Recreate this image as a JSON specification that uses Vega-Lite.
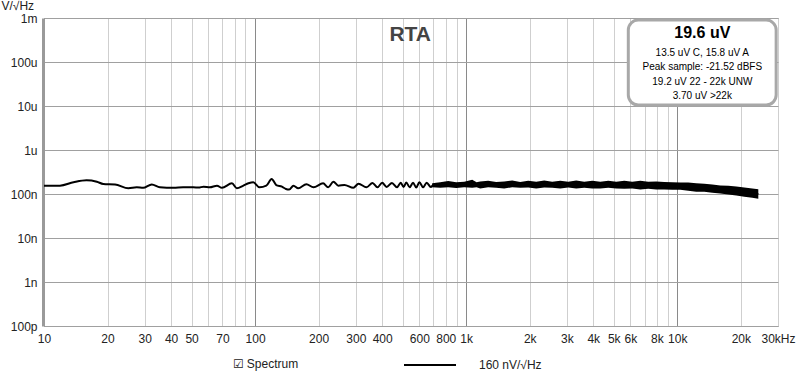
{
  "$schema": "https://vega.github.io/schema/vega-lite/v6.json",
  "width": 734,
  "height": 308,
  "autosize": "none",
  "padding": {"left": 44, "top": 18, "right": 22, "bottom": 52},
  "background": "white",
  "config": {
    "font": "Liberation Sans",
    "view": {"stroke": "#a0a0a0", "strokeWidth": 1}
  },
  "datasets": {
    "trace": [
      {"f": 10, "v": 1.55e-7}, {"f": 11.9, "v": 1.55e-7}, {"f": 13.8, "v": 1.85e-7},
      {"f": 15.9, "v": 2.05e-7}, {"f": 17.8, "v": 1.9e-7}, {"f": 19.1, "v": 1.69e-7},
      {"f": 21.7, "v": 1.65e-7}, {"f": 25.1, "v": 1.35e-7}, {"f": 27.5, "v": 1.42e-7},
      {"f": 29.5, "v": 1.38e-7}, {"f": 32.4, "v": 1.65e-7}, {"f": 35.4, "v": 1.42e-7},
      {"f": 41.1, "v": 1.38e-7}, {"f": 45.6, "v": 1.42e-7}, {"f": 51, "v": 1.42e-7},
      {"f": 54, "v": 1.4e-7}, {"f": 57, "v": 1.47e-7}, {"f": 61, "v": 1.42e-7},
      {"f": 66, "v": 1.55e-7}, {"f": 69.6, "v": 1.38e-7}, {"f": 77.7, "v": 1.75e-7},
      {"f": 81.9, "v": 1.35e-7}, {"f": 88, "v": 1.55e-7}, {"f": 93, "v": 1.75e-7},
      {"f": 98, "v": 1.85e-7}, {"f": 105, "v": 1.42e-7}, {"f": 113, "v": 1.55e-7},
      {"f": 119.8, "v": 2.19e-7}, {"f": 126, "v": 1.6e-7}, {"f": 134, "v": 1.47e-7},
      {"f": 140, "v": 1.3e-7}, {"f": 145, "v": 1.26e-7}, {"f": 152, "v": 1.55e-7},
      {"f": 160, "v": 1.35e-7}, {"f": 175, "v": 1.67e-7}, {"f": 189, "v": 1.42e-7},
      {"f": 210, "v": 1.75e-7}, {"f": 222, "v": 1.42e-7}, {"f": 235, "v": 1.9e-7},
      {"f": 248, "v": 1.55e-7}, {"f": 265, "v": 1.6e-7}, {"f": 292, "v": 1.38e-7},
      {"f": 309, "v": 1.72e-7}, {"f": 337, "v": 1.42e-7}, {"f": 360, "v": 1.78e-7},
      {"f": 380, "v": 1.42e-7}, {"f": 400, "v": 1.8e-7}, {"f": 420, "v": 1.45e-7},
      {"f": 445, "v": 1.78e-7}, {"f": 470, "v": 1.42e-7}, {"f": 490, "v": 1.8e-7},
      {"f": 505, "v": 1.44e-7}, {"f": 520, "v": 1.82e-7}, {"f": 540, "v": 1.42e-7},
      {"f": 560, "v": 1.8e-7}, {"f": 580, "v": 1.4e-7}, {"f": 600, "v": 1.85e-7},
      {"f": 625, "v": 1.42e-7}, {"f": 650, "v": 1.8e-7}, {"f": 680, "v": 1.45e-7},
      {"f": 700, "v": 1.6e-7}, {"f": 1000, "v": 1.6e-7}, {"f": 2000, "v": 1.62e-7},
      {"f": 5000, "v": 1.58e-7}, {"f": 10000, "v": 1.48e-7}, {"f": 15000, "v": 1.3e-7},
      {"f": 20000, "v": 1.15e-7}, {"f": 24200, "v": 1.0e-7}
    ],
    "band": [
      {"f": 690, "lo": 1.42e-7, "hi": 1.75e-7}, {"f": 753, "lo": 1.38e-7, "hi": 1.85e-7},
      {"f": 822, "lo": 1.42e-7, "hi": 1.97e-7}, {"f": 897, "lo": 1.36e-7, "hi": 1.85e-7},
      {"f": 978, "lo": 1.42e-7, "hi": 1.9e-7}, {"f": 1068, "lo": 1.38e-7, "hi": 2.1e-7},
      {"f": 1120, "lo": 1.42e-7, "hi": 1.85e-7},
      {"f": 1165, "lo": 1.34e-7, "hi": 1.92e-7}, {"f": 1271, "lo": 1.42e-7, "hi": 2.0e-7},
      {"f": 1387, "lo": 1.38e-7, "hi": 1.88e-7}, {"f": 1514, "lo": 1.34e-7, "hi": 1.92e-7},
      {"f": 1652, "lo": 1.42e-7, "hi": 2.02e-7}, {"f": 1803, "lo": 1.38e-7, "hi": 1.88e-7},
      {"f": 1967, "lo": 1.4e-7, "hi": 2.0e-7}, {"f": 2147, "lo": 1.33e-7, "hi": 1.9e-7},
      {"f": 2343, "lo": 1.4e-7, "hi": 2.02e-7}, {"f": 2556, "lo": 1.38e-7, "hi": 1.9e-7},
      {"f": 2790, "lo": 1.33e-7, "hi": 2.0e-7}, {"f": 3044, "lo": 1.4e-7, "hi": 1.9e-7},
      {"f": 3322, "lo": 1.33e-7, "hi": 2.02e-7}, {"f": 3625, "lo": 1.38e-7, "hi": 1.9e-7},
      {"f": 3956, "lo": 1.33e-7, "hi": 2.0e-7}, {"f": 4316, "lo": 1.33e-7, "hi": 1.9e-7},
      {"f": 4710, "lo": 1.38e-7, "hi": 2.0e-7}, {"f": 5140, "lo": 1.33e-7, "hi": 1.9e-7},
      {"f": 5609, "lo": 1.32e-7, "hi": 2.0e-7}, {"f": 6121, "lo": 1.33e-7, "hi": 1.9e-7},
      {"f": 6678, "lo": 1.27e-7, "hi": 2.0e-7}, {"f": 7288, "lo": 1.32e-7, "hi": 1.9e-7},
      {"f": 7953, "lo": 1.26e-7, "hi": 1.92e-7}, {"f": 8678, "lo": 1.27e-7, "hi": 1.88e-7},
      {"f": 9470, "lo": 1.25e-7, "hi": 1.84e-7}, {"f": 10330, "lo": 1.25e-7, "hi": 1.82e-7},
      {"f": 11270, "lo": 1.19e-7, "hi": 1.82e-7}, {"f": 12300, "lo": 1.13e-7, "hi": 1.75e-7},
      {"f": 13430, "lo": 1.12e-7, "hi": 1.72e-7}, {"f": 14650, "lo": 1.07e-7, "hi": 1.65e-7},
      {"f": 15990, "lo": 1.02e-7, "hi": 1.57e-7}, {"f": 17450, "lo": 9.7e-8, "hi": 1.55e-7},
      {"f": 19040, "lo": 9.2e-8, "hi": 1.48e-7}, {"f": 20780, "lo": 8.7e-8, "hi": 1.41e-7},
      {"f": 22670, "lo": 8.2e-8, "hi": 1.34e-7}, {"f": 24200, "lo": 7.8e-8, "hi": 1.28e-7}
    ]
  },
  "layer": [
    {
      "data": {"name": "band"},
      "mark": {"type": "area", "color": "black"},
      "encoding": {
        "x": {
          "field": "f", "type": "quantitative",
          "scale": {"type": "log", "domain": [10, 30000], "nice": false},
          "axis": {
            "title": "☑ Spectrum",
            "titleX": 188, "titleY": 37, "titleAlign": "left", "titleBaseline": "middle",
            "titleFontSize": 12, "titleFontWeight": "normal", "titleColor": "#222",
            "values": [10,20,30,40,50,60,70,80,90,100,200,300,400,500,600,700,800,900,1000,2000,3000,4000,5000,6000,7000,8000,9000,10000,20000,30000],
            "labelExpr": "datum.value==30000 ? '30kHz' : indexof([10,20,30,40,50,70,100,200,300,400,600,800,1000,2000,3000,4000,5000,6000,8000,10000,20000], datum.value) < 0 ? '' : datum.value >= 1000 ? (datum.value/1000) + 'k' : datum.value + ''",
            "labelOverlap": false, "labelFlush": false, "labelBound": false,
            "ticks": false, "domain": false,
            "labelPadding": 7, "labelFontSize": 12, "labelColor": "#222",
            "grid": true,
            "gridColor": {"condition": {"test": "datum.value==10 || datum.value==100 || datum.value==1000 || datum.value==10000", "value": "#8a8a8a"}, "value": "#cfcfcf"},
            "gridWidth": 1
          }
        },
        "y": {
          "field": "lo", "type": "quantitative",
          "scale": {"type": "log", "domain": [1e-10, 1e-3], "nice": false},
          "axis": {
            "title": "V/√Hz",
            "titleAngle": 0, "titleX": -42, "titleY": -18,
            "titleAlign": "left", "titleBaseline": "top",
            "titleFontWeight": "normal", "titleFontSize": 12, "titleColor": "#222",
            "values": [1e-3, 1e-4, 1e-5, 1e-6, 1e-7, 1e-8, 1e-9, 1e-10],
            "labelExpr": "['1m','100u','10u','1u','100n','10n','1n','100p'][round(-log(datum.value)/LN10) - 3]",
            "labelOverlap": false, "labelFlush": false, "labelBound": false,
            "ticks": false, "labelPadding": 6, "labelFontSize": 12, "labelColor": "#222",
            "domain": true, "domainColor": "#9a9a9a", "domainWidth": 3, "offset": 1,
            "grid": true, "gridColor": "#a0a0a0"
          }
        },
        "y2": {"field": "hi"}
      }
    },
    {
      "data": {"name": "trace"},
      "mark": {"type": "line", "strokeWidth": 2, "interpolate": "monotone"},
      "encoding": {
        "x": {"field": "f", "type": "quantitative"},
        "y": {"field": "v", "type": "quantitative"},
        "stroke": {
          "datum": "160 nV/√Hz",
          "scale": {"range": ["black"]},
          "legend": {
            "orient": "none", "legendX": 359, "legendY": 320,
            "title": null,
            "symbolType": "stroke", "symbolSize": 2704, "symbolStrokeWidth": 2,
            "labelOffset": 22, "labelFontSize": 12, "labelColor": "#222"
          }
        }
      }
    },
    {
      "data": {"values": [{}]},
      "mark": {"type": "rect", "fill": "white", "stroke": "#a8a8a8", "strokeWidth": 3, "cornerRadius": 10},
      "encoding": {
        "x": {"datum": 5861}, "x2": {"datum": 29400},
        "y": {"datum": 9.0e-4}, "y2": {"datum": 1.05e-5}
      }
    },
    {
      "data": {"values": [{}]},
      "mark": {"type": "text", "text": "19.6 uV", "fontSize": 16, "fontWeight": "bold", "align": "center", "baseline": "middle", "color": "black"},
      "encoding": {"x": {"datum": 13140}, "y": {"datum": 4.56e-4}}
    },
    {
      "data": {"values": [{}]},
      "mark": {"type": "text", "text": ["13.5 uV C, 15.8 uV A", "Peak sample: -21.52 dBFS", "19.2 uV 22 - 22k UNW", "3.70 uV >22k"], "fontSize": 10, "lineHeight": 14.3, "align": "center", "baseline": "middle", "color": "black"},
      "encoding": {"x": {"datum": 13140}, "y": {"datum": 1.6e-4}}
    },
    {
      "data": {"values": [{}]},
      "mark": {"type": "text", "text": "RTA", "fontSize": 21, "fontWeight": "bold", "align": "center", "baseline": "middle", "color": "#444"},
      "encoding": {"x": {"datum": 543}, "y": {"datum": 4.1e-4}}
    }
  ]
}
